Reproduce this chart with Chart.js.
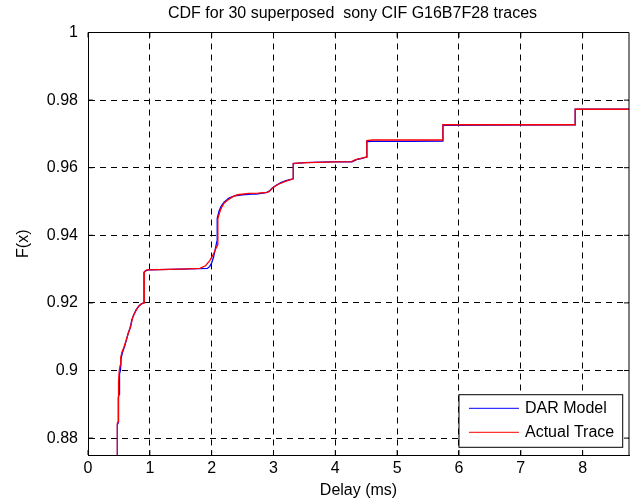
<!DOCTYPE html>
<html>
<head>
<meta charset="utf-8">
<script src="https://cdn.jsdelivr.net/npm/chart.js@4.4.1/dist/chart.umd.min.js"></script>
<style>
  body { margin: 0; background: #fff; }
  canvas { display: block; }
</style>
</head>
<body>
<canvas id="cdfChart" width="631" height="502"></canvas>
<script>
// values
const chartTitle = 'CDF for 30 superposed  sony CIF G16B7F28 traces';
const xTicks = [0, 1, 2, 3, 4, 5, 6, 7, 8];
const yTicks = [0.88, 0.9, 0.92, 0.94, 0.96, 0.98, 1];
const yTickLabels = ['0.88', '0.9', '0.92', '0.94', '0.96', '0.98', '1'];
const xRange = [0, 8.75];
const yRange = [0.875, 1];

// DAR Model (blue)
const darDelay = [0.475, 0.475, 0.49, 0.49, 0.505, 0.51, 0.525, 0.535, 0.56, 0.59, 0.62, 0.65, 0.68, 0.71, 0.74, 0.78, 0.82, 0.86, 0.905, 0.905, 0.93, 0.98, 1.5, 1.93, 1.97, 2.0, 2.03, 2.06, 2.08, 2.09, 2.09, 2.12, 2.15, 2.2, 2.28, 2.38, 2.5, 2.65, 2.72, 2.88, 2.93, 2.98, 3.05, 3.12, 3.2, 3.32, 3.32, 3.5, 3.9, 4.27, 4.31, 4.36, 4.42, 4.47, 4.51, 4.51, 4.58, 5.2, 5.74, 5.74, 6.5, 7.88, 7.88, 8.75];
const darCdf = [0.87, 0.884, 0.8845, 0.892, 0.893, 0.899, 0.9, 0.9035, 0.9055, 0.907, 0.909, 0.911, 0.9125, 0.915, 0.9165, 0.918, 0.919, 0.9197, 0.92, 0.929, 0.9295, 0.9298, 0.93, 0.9302, 0.9308, 0.9318, 0.9335, 0.936, 0.9378, 0.9385, 0.945, 0.9472, 0.9485, 0.9498, 0.951, 0.9517, 0.952, 0.9522, 0.9522, 0.9526, 0.953, 0.954, 0.9549, 0.9556, 0.9562, 0.9567, 0.9612, 0.9615, 0.9617, 0.9617, 0.9621, 0.9625, 0.9627, 0.963, 0.9632, 0.9677, 0.9678, 0.9678, 0.9679, 0.9725, 0.9726, 0.9727, 0.9773, 0.9773];

// Actual Trace (red)
const traceDelay = [0.475, 0.475, 0.488, 0.488, 0.5, 0.505, 0.52, 0.53, 0.55, 0.58, 0.61, 0.63, 0.66, 0.69, 0.72, 0.75, 0.79, 0.83, 0.875, 0.91, 0.91, 0.95, 1.5, 1.81, 1.9, 1.97, 2.03, 2.06, 2.1, 2.1, 2.13, 2.16, 2.2, 2.25, 2.33, 2.42, 2.6, 2.75, 2.9, 2.95, 3.0, 3.08, 3.18, 3.28, 3.32, 3.32, 3.55, 4.0, 4.26, 4.32, 4.38, 4.44, 4.51, 4.51, 4.6, 5.74, 5.74, 7.88, 7.88, 8.75];
const traceCdf = [0.87, 0.8845, 0.8848, 0.896, 0.8965, 0.9, 0.9015, 0.904, 0.9055, 0.9068, 0.9085, 0.9097, 0.9115, 0.913, 0.9155, 0.9168, 0.9182, 0.9192, 0.9198, 0.92, 0.9292, 0.9298, 0.93, 0.9302, 0.931, 0.9325, 0.9345, 0.9358, 0.9372, 0.9449, 0.9468, 0.9482, 0.9495, 0.9503, 0.9513, 0.952, 0.9524, 0.9525, 0.9527, 0.9533, 0.9542, 0.9551, 0.9559, 0.9565, 0.9568, 0.9613, 0.9615, 0.9617, 0.9618, 0.9623, 0.9626, 0.9629, 0.9631, 0.968, 0.9682, 0.9682, 0.9727, 0.9727, 0.9773, 0.9773];

const fontFamily = '"Liberation Sans", Arial, Helvetica, sans-serif';

function toPoints(xs, ys) {
    const pts = [];
    for (let i = 0; i < xs.length; i++) {
        pts.push({ x: xs[i], y: ys[i] });
    }
    return pts;
}

// title over the axes, box on top/right, inward ticks, legend inside the plot
const matlabLook = {
    id: 'matlabLook',
    afterDraw(chart) {
        const ctx = chart.ctx;
        const { left, right, top, bottom } = chart.chartArea;
        const xs = chart.scales.x;
        const ys = chart.scales.y;

        ctx.save();
        ctx.fillStyle = '#000';
        ctx.font = '16px ' + fontFamily;
        ctx.textAlign = 'center';
        ctx.textBaseline = 'middle';
        ctx.fillText(chartTitle, (left + right) / 2 - 6, 14);

        ctx.strokeStyle = '#000';
        ctx.lineWidth = 1;
        ctx.beginPath();
        ctx.moveTo(left, top);
        ctx.lineTo(right, top);
        ctx.lineTo(right, bottom);
        const tickLen = 5;
        xs.ticks.forEach(t => {
            const px = xs.getPixelForValue(t.value);
            ctx.moveTo(px, bottom);
            ctx.lineTo(px, bottom - tickLen);
            ctx.moveTo(px, top);
            ctx.lineTo(px, top + tickLen);
        });
        ys.ticks.forEach(t => {
            const py = ys.getPixelForValue(t.value);
            ctx.moveTo(left, py);
            ctx.lineTo(left + tickLen, py);
            ctx.moveTo(right, py);
            ctx.lineTo(right - tickLen, py);
        });
        ctx.stroke();

        // legend
        const sets = chart.data.datasets;
        let textW = 0;
        sets.forEach(d => { textW = Math.max(textW, ctx.measureText(d.label).width); });
        const boxW = 66 + textW + 8.5;
        const boxH = 52.6;
        const x0 = right - 6.3 - boxW;
        const y0 = bottom - 7.7 - boxH;
        ctx.fillStyle = '#fff';
        ctx.fillRect(x0, y0, boxW, boxH);
        ctx.strokeRect(x0, y0, boxW, boxH);
        sets.forEach((d, i) => {
            const rowY = y0 + 13.6 + i * 24;
            ctx.strokeStyle = d.borderColor;
            ctx.beginPath();
            ctx.moveTo(x0 + 10, rowY);
            ctx.lineTo(x0 + 60, rowY);
            ctx.stroke();
            ctx.fillStyle = '#000';
            ctx.textAlign = 'left';
            ctx.fillText(d.label, x0 + 66, rowY);
        });
        ctx.restore();
    }
};

const cdfData = {
    datasets: [
        {
            label: 'DAR Model',
            data: toPoints(darDelay, darCdf),
            borderColor: '#0000ff',
            borderWidth: 1.3,
            pointRadius: 0,
            tension: 0,
            order: 1
        },
        {
            label: 'Actual Trace',
            data: toPoints(traceDelay, traceCdf),
            borderColor: '#ff0000',
            borderWidth: 1.3,
            pointRadius: 0,
            tension: 0,
            order: 0
        }
    ]
};

const cdfConfig = {
    type: 'line',
    data: cdfData,
    plugins: [matlabLook],
    options: {
        responsive: false,
        animation: false,
        devicePixelRatio: 1,
        layout: { padding: { left: 0, right: 2, top: 32.5, bottom: 0 } },
        plugins: {
            legend: { display: false },
            title: { display: false },
            tooltip: { enabled: false }
        },
        scales: {
            x: {
                type: 'linear',
                min: xRange[0],
                max: xRange[1],
                afterBuildTicks: s => { s.ticks = xTicks.map(v => ({ value: v })); },
                afterFit: s => { s.height = 47; },
                grid: { color: '#000', lineWidth: 1, drawTicks: false },
                border: { display: true, color: '#000', width: 1, dash: [6, 5] },
                ticks: {
                    color: '#000',
                    font: { family: fontFamily, size: 16 },
                    padding: 4,
                    maxRotation: 0,
                    autoSkip: false,
                    callback: v => String(v)
                },
                title: {
                    display: true,
                    text: 'Delay (ms)',
                    color: '#000',
                    font: { family: fontFamily, size: 16 },
                    padding: { top: 0, bottom: 1.5 }
                }
            },
            y: {
                type: 'linear',
                min: yRange[0],
                max: yRange[1],
                afterBuildTicks: s => { s.ticks = yTicks.map(v => ({ value: v })); },
                afterFit: s => { s.width = 88; },
                grid: { color: '#000', lineWidth: 1, drawTicks: false },
                border: { display: true, color: '#000', width: 1, dash: [6, 5] },
                ticks: {
                    color: '#000',
                    font: { family: fontFamily, size: 16 },
                    padding: 10,
                    callback: v => {
                        const i = yTicks.findIndex(t => Math.abs(t - v) < 1e-9);
                        return i >= 0 ? yTickLabels[i] : '';
                    }
                },
                title: {
                    display: true,
                    text: 'F(x)',
                    color: '#000',
                    font: { family: fontFamily, size: 16 },
                    padding: { top: 14, bottom: 0 }
                }
            }
        }
    }
};

new Chart(document.getElementById('cdfChart').getContext('2d'), cdfConfig);
</script>
</body>
</html>
